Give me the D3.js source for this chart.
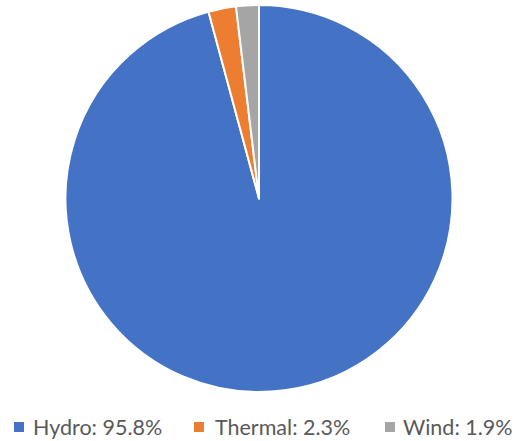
<!DOCTYPE html>
<html>
<head>
<meta charset="utf-8">
<script src="https://cdn.jsdelivr.net/npm/d3@7"></script>
<style>
  html, body { margin: 0; padding: 0; background: #fff; }
  svg { display: block; }
</style>
</head>
<body>
<svg id="chart" width="516" height="441"></svg>
<script>
// Electricity generation share by source
const categories = ["Hydro", "Thermal", "Wind"];
const shares = [95.8, 2.3, 1.9];
const colors = ["#4472C4", "#ED7D31", "#A5A5A5"];

const svg = d3.select("#chart");
const cx = 259, cy = 198.5, radius = 193.5;

const pie = d3.pie().sort(null).value(d => d.value);
const arcs = pie(categories.map((c, i) => ({ name: c, value: shares[i] })));
const arc = d3.arc().innerRadius(0).outerRadius(radius);
const color = d3.scaleOrdinal().domain(categories).range(colors);

svg.append("g")
  .attr("transform", `translate(${cx},${cy})`)
  .selectAll("path")
  .data(arcs)
  .join("path")
  .attr("d", arc)
  .attr("fill", d => color(d.data.name))
  .attr("stroke", "#fff")
  .attr("stroke-width", 2)
  .attr("stroke-linejoin", "round");

// Legend along the bottom
const swatchX = [14, 194, 385];
const labelX = [33, 215, 403];
const legend = svg.append("g");
const items = legend.selectAll("g")
  .data(categories)
  .join("g");

items.append("rect")
  .attr("x", (d, i) => swatchX[i]).attr("y", 422)
  .attr("width", 10).attr("height", 10)
  .attr("fill", d => color(d));

items.append("text")
  .attr("x", (d, i) => labelX[i]).attr("y", 435)
  .attr("font-family", "Lato, 'Open Sans', sans-serif")
  .attr("font-size", 21.5)
  .attr("fill", "#595959")
  .text((d, i) => `${d}: ${shares[i]}%`);
</script>
</body>
</html>
